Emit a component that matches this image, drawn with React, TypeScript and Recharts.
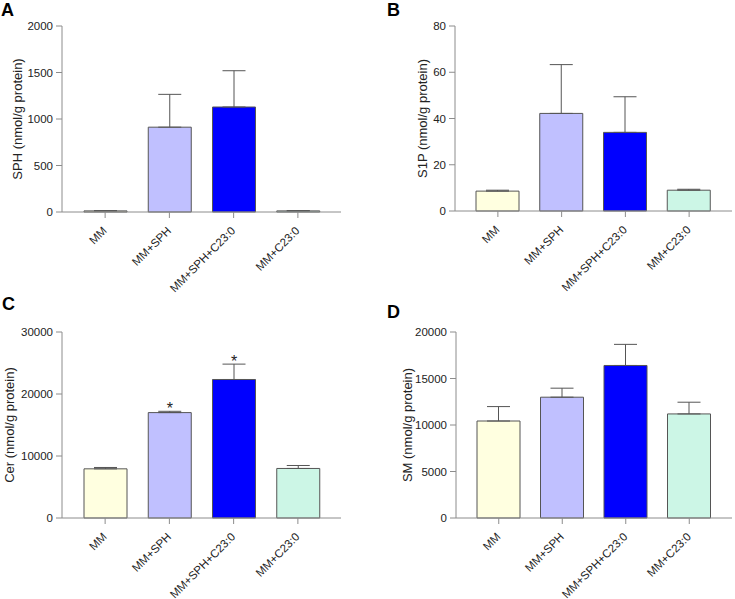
import React from "react";
import { BarChart, Bar, XAxis, YAxis, Cell, ErrorBar, LabelList } from "recharts";

const categories = ["MM", "MM+SPH", "MM+SPH+C23:0", "MM+C23:0"];
const barColors = ["#FFFFE0", "#C0C0FF", "#0000FF", "#CCF6E6"];

const sphMean = [12, 912, 1129, 12];
const sphErrTop = [14, 1265, 1519, 14];
const sphTicks = [0, 500, 1000, 1500, 2000];

const s1pMean = [8.6, 42.2, 34.0, 9.0];
const s1pErrTop = [9.0, 63.3, 49.4, 9.4];
const s1pTicks = [0, 20, 40, 60, 80];

const cerMean = [7930, 17000, 22340, 7990];
const cerErrTop = [8150, 17210, 24820, 8470];
const cerTicks = [0, 10000, 20000, 30000];
const cerStars = ["", "*", "*", ""];

const smMean = [10430, 12990, 16400, 11190];
const smErrTop = [11980, 13960, 18670, 12450];
const smTicks = [0, 5000, 10000, 15000, 20000];
const noStars = ["", "", "", ""];

const FONT = "'Liberation Sans', Arial, sans-serif";
const AXIS = "#8c8c8c";
const EDGE = "#555555";

function buildRows(mean: number[], errTop: number[], stars: string[]) {
  return categories.map((c, i) => ({
    name: c,
    value: mean[i],
    err: [0, Math.max(0, errTop[i] - mean[i])],
    errTop: errTop[i],
    star: stars[i],
  }));
}

const XTick = (props: any) => {
  const { x, y, payload } = props;
  const ex = x + 2.5;
  const ey = y + 11.5;
  return (
    <text
      x={ex}
      y={ey}
      textAnchor="end"
      transform={`rotate(-45 ${ex} ${ey})`}
      fontSize={11.5}
      fontFamily={FONT}
      fill="#222"
    >
      {payload.value}
    </text>
  );
};

type PanelProps = {
  left: number;
  top: number;
  width: number;
  height: number;
  mTop: number;
  mRight: number;
  yWidth: number;
  xHeight: number;
  mean: number[];
  errTop: number[];
  stars: string[];
  ticks: number[];
  yLabel: string;
  labelX: number;
};

function Panel(p: PanelProps) {
  const rows = buildRows(p.mean, p.errTop, p.stars);
  const max = p.ticks[p.ticks.length - 1];
  return (
    <div style={{ position: "absolute", left: p.left, top: p.top }}>
      <BarChart
        width={p.width}
        height={p.height}
        data={rows}
        margin={{ top: p.mTop, right: p.mRight, left: 0, bottom: 0 }}
        barSize={43}
      >
        <XAxis
          dataKey="name"
          height={p.xHeight}
          padding={{ left: 11, right: 11 }}
          stroke={AXIS}
          tickLine={{ stroke: AXIS }}
          tickSize={6}
          tickMargin={2}
          interval={0}
          tick={<XTick />}
        />
        <YAxis
          width={p.yWidth}
          domain={[0, max]}
          ticks={p.ticks}
          interval={0}
          stroke={AXIS}
          tickLine={{ stroke: AXIS }}
          tickSize={6}
          tickMargin={3}
          tick={{ fill: "#222", fontSize: 11.5, fontFamily: FONT }}
          label={{
            content: (lp: any) => {
              const vb = lp.viewBox || {};
              const cy = (vb.y || 0) + (vb.height || 0) / 2;
              return (
                <text
                  x={p.labelX}
                  y={cy}
                  transform={`rotate(-90 ${p.labelX} ${cy})`}
                  textAnchor="middle"
                  dominantBaseline="central"
                  fontSize={13}
                  fontFamily={FONT}
                  fill="#222"
                >
                  {p.yLabel}
                </text>
              );
            },
          }}
        />
        <Bar dataKey="value" stroke={EDGE} strokeWidth={1} isAnimationActive={false}>
          {rows.map((r, i) => (
            <Cell key={r.name} fill={barColors[i]} />
          ))}
          <ErrorBar dataKey="err" width={11.5} stroke={EDGE} strokeWidth={1} direction="y" />
          <LabelList
            dataKey="star"
            content={(lp: any) => {
              const { x, y, width, height, index } = lp;
              const r = rows[index];
              if (!r || !r.star) return null;
              const bottom = y + height;
              const scale = height / r.value;
              const ty = bottom - r.errTop * scale;
              return (
                <text
                  x={x + width / 2}
                  y={ty + 3}
                  textAnchor="middle"
                  fontSize={16}
                  fontFamily={FONT}
                  fill="#222"
                >
                  {r.star}
                </text>
              );
            }}
          />
        </Bar>
      </BarChart>
    </div>
  );
}

const letterStyle: React.CSSProperties = {
  position: "absolute",
  fontFamily: FONT,
  fontWeight: "bold",
  fontSize: 18,
  lineHeight: "18px",
  color: "#000",
};

export default function App() {
  return (
    <div
      style={{
        position: "absolute",
        left: 0,
        top: 0,
        width: 735,
        height: 599,
        overflow: "hidden",
        background: "#fff",
      }}
    >
      <div style={{ ...letterStyle, left: 1, top: 1 }}>A</div>
      <div style={{ ...letterStyle, left: 387, top: 1 }}>B</div>
      <div style={{ ...letterStyle, left: 2, top: 295 }}>C</div>
      <div style={{ ...letterStyle, left: 387, top: 303 }}>D</div>
      <Panel
        left={0}
        top={0}
        width={367}
        height={300}
        mTop={26}
        mRight={26}
        yWidth={62}
        xHeight={88}
        mean={sphMean}
        errTop={sphErrTop}
        stars={noStars}
        ticks={sphTicks}
        yLabel="SPH (nmol/g protein)"
        labelX={17}
      />
      <Panel
        left={393}
        top={0}
        width={342}
        height={300}
        mTop={26}
        mRight={3}
        yWidth={62}
        xHeight={89}
        mean={s1pMean}
        errTop={s1pErrTop}
        stars={noStars}
        ticks={s1pTicks}
        yLabel="S1P (nmol/g protein)"
        labelX={29}
      />
      <Panel
        left={0}
        top={306}
        width={367}
        height={293}
        mTop={26}
        mRight={26}
        yWidth={62}
        xHeight={81}
        mean={cerMean}
        errTop={cerErrTop}
        stars={cerStars}
        ticks={cerTicks}
        yLabel="Cer (nmol/g protein)"
        labelX={9}
      />
      <Panel
        left={393}
        top={306}
        width={342}
        height={293}
        mTop={26}
        mRight={3}
        yWidth={63}
        xHeight={81}
        mean={smMean}
        errTop={smErrTop}
        stars={noStars}
        ticks={smTicks}
        yLabel="SM (nmol/g protein)"
        labelX={14}
      />
    </div>
  );
}
